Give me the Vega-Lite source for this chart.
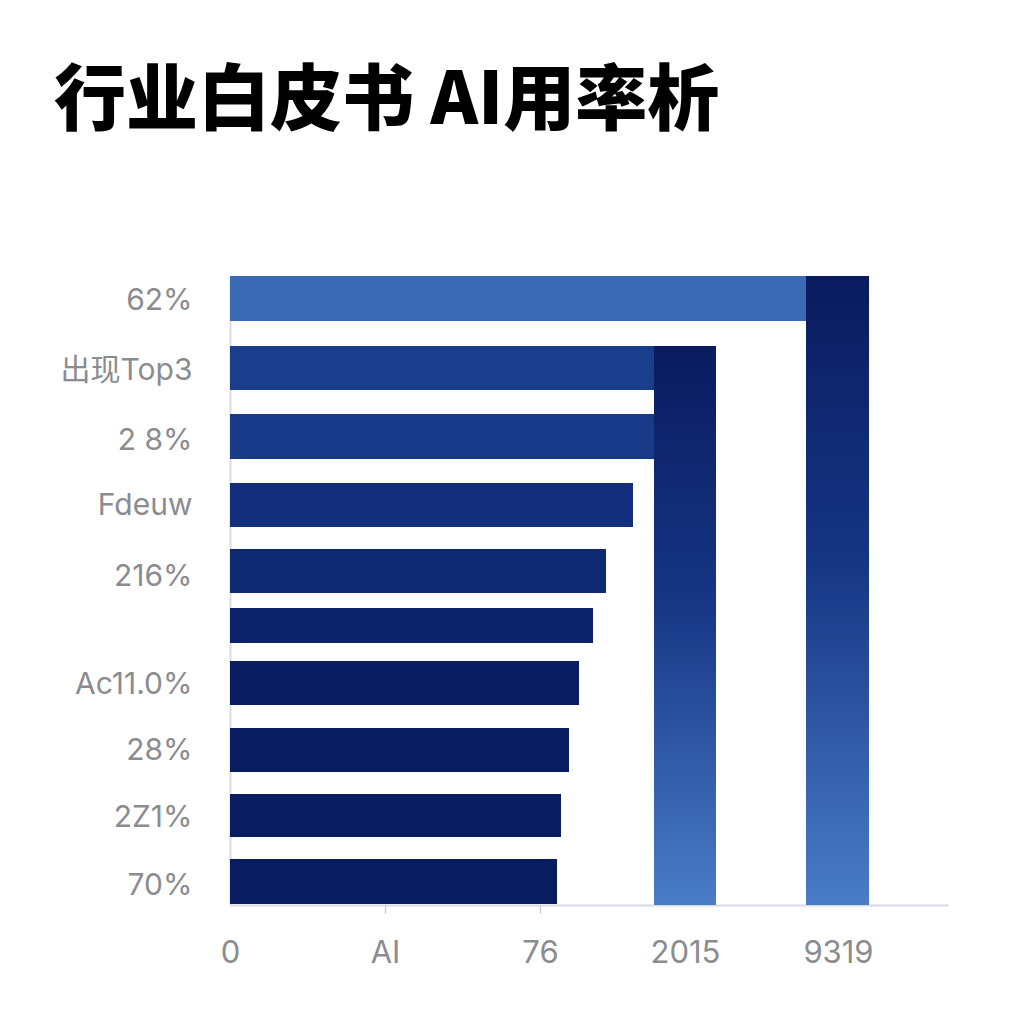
{
  "$schema": "https://vega.github.io/schema/vega-lite/v6.json",
  "description": "行业白皮书 AI用率析 — horizontal bars with two tall columns",
  "autosize": {"type": "none"},
  "width": 718,
  "height": 629,
  "padding": {"left": 230, "top": 276, "right": 76, "bottom": 119},
  "background": "white",
  "title": {
    "text": "行业白皮书 AI用率析",
    "anchor": "start",
    "frame": "group",
    "font": "Noto Sans CJK SC",
    "fontSize": 72,
    "fontWeight": 900,
    "color": "#000000",
    "baseline": "alphabetic",
    "offset": 80,
    "dx": -176
  },
  "datasets": {
    "rows": [
      {"row": 1, "start": 0, "end": 576, "top": 0, "bottom": 45},
      {"row": 2, "start": 0, "end": 424, "top": 70, "bottom": 114},
      {"row": 3, "start": 0, "end": 424, "top": 138, "bottom": 183},
      {"row": 4, "start": 0, "end": 403, "top": 207, "bottom": 251},
      {"row": 5, "start": 0, "end": 376, "top": 273, "bottom": 317},
      {"row": 6, "start": 0, "end": 363, "top": 332, "bottom": 367},
      {"row": 7, "start": 0, "end": 349, "top": 385, "bottom": 429},
      {"row": 8, "start": 0, "end": 339, "top": 452, "bottom": 496},
      {"row": 9, "start": 0, "end": 331, "top": 518, "bottom": 561},
      {"row": 10, "start": 0, "end": 327, "top": 583, "bottom": 628}
    ],
    "columns": [
      {"col": "2015", "left": 424, "right": 486, "top": 70, "bottom": 629},
      {"col": "9319", "left": 576, "right": 639, "top": 0, "bottom": 629}
    ]
  },
  "layer": [
    {
      "data": {"name": "rows"},
      "mark": {"type": "bar"},
      "encoding": {
        "x": {
          "field": "start",
          "type": "quantitative",
          "scale": {"domain": [0, 718], "nice": false, "zero": true},
          "axis": {
            "title": null,
            "values": [0, 155, 310, 455, 608],
            "labelExpr": "['0','AI','76','2015','9319'][indexof([0,155,310,455,608], datum.value)]",
            "grid": false,
            "domainColor": "#d6d9df",
            "domainWidth": 2,
            "tickColor": {
              "condition": {"test": "datum.value == 155 || datum.value == 310", "value": "#c9ccd3"},
              "value": "transparent"
            },
            "tickSize": 8,
            "tickWidth": 1.5,
            "labelPadding": 25,
            "labelFont": "Inter, Noto Sans",
            "labelFontSize": 31,
            "labelColor": "#8a8c90",
            "labelAngle": 0,
            "labelFlush": false,
            "labelOverlap": false
          }
        },
        "x2": {"field": "end"},
        "y": {
          "field": "top",
          "type": "quantitative",
          "scale": {"domain": [0, 629], "nice": false, "zero": true, "reverse": true},
          "axis": {
            "title": null,
            "values": [24, 94, 164, 229, 300, 408, 474, 541, 609],
            "labelExpr": "['62%','出现Top3','2 8%','Fdeuw','216%','Ac11.0%','28%','2Z1%','70%'][indexof([24,94,164,229,300,408,474,541,609], datum.value)]",
            "grid": false,
            "ticks": false,
            "domainColor": "#d8dce8",
            "domainWidth": 2,
            "labelPadding": 38,
            "labelFont": "Inter, Noto Sans CJK SC",
            "labelFontSize": 30,
            "labelColor": "#8a8c90",
            "labelBaseline": "middle",
            "labelOverlap": false
          }
        },
        "y2": {"field": "bottom"},
        "color": {
          "field": "row",
          "type": "ordinal",
          "legend": null,
          "scale": {
            "domain": [1, 2, 3, 4, 5, 6, 7, 8, 9, 10],
            "range": ["#3b69b3", "#1a3d8c", "#183a88", "#132f7b", "#0f2a73", "#0c236a", "#0a1d62", "#0a1c60", "#0a1c60", "#0a1c60"]
          }
        }
      }
    },
    {
      "data": {"name": "columns"},
      "mark": {
        "type": "bar",
        "fill": {
          "gradient": "linear",
          "x1": 0, "y1": 0, "x2": 0, "y2": 1,
          "stops": [
            {"offset": 0, "color": "#0a1b5f"},
            {"offset": 0.45, "color": "#163583"},
            {"offset": 1, "color": "#4a7cc8"}
          ]
        }
      },
      "encoding": {
        "x": {"field": "left", "type": "quantitative"},
        "x2": {"field": "right"},
        "y": {"field": "top", "type": "quantitative"},
        "y2": {"field": "bottom"}
      }
    }
  ],
  "config": {
    "view": {"stroke": null}
  }
}
